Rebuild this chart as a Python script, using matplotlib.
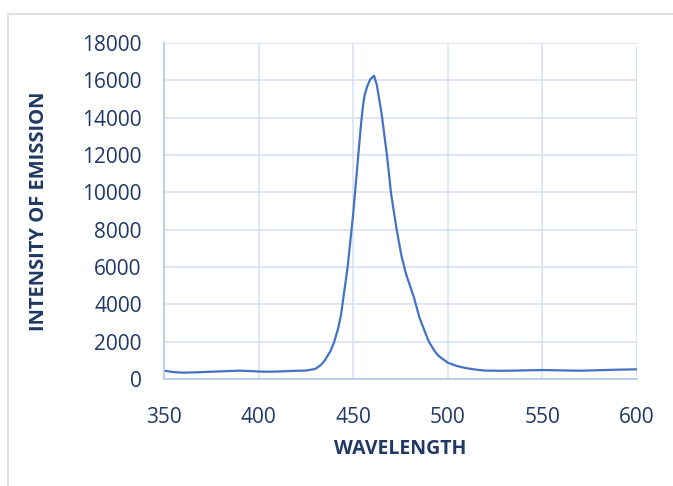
import numpy as np
import matplotlib
matplotlib.use("Agg")
import matplotlib.pyplot as plt
from matplotlib.patches import Rectangle

# ── data ──────────────────────────────────────────────────
wavelength = [350, 355, 360, 365, 370, 375, 380, 385, 390, 395,
              400, 405, 410, 415, 420, 425, 430, 433, 435, 438,
              440, 442, 443.5, 445, 447, 450, 452, 454, 455, 456, 457.5,
              459, 461, 462.5, 465, 468, 470, 473, 475.5, 478, 482,
              485, 488, 490, 493, 495, 500, 505, 510, 515, 520, 530, 540,
              550, 560, 570, 580, 590, 600]
intensity = [450, 370, 340, 350, 370, 390, 410, 430, 445, 430,
             400, 390, 400, 420, 440, 450, 540, 760, 1000, 1500,
             2000, 2700, 3400, 4500, 5950, 8850, 11200, 13500, 14500, 15200, 15700,
             16050, 16250, 15750, 14230, 11850, 9950, 7980, 6600, 5600, 4400,
             3300, 2500, 2000, 1500, 1250, 870, 690, 575, 500, 450, 440, 460,
             480, 460, 445, 470, 500, 520]

x_ticks = [350, 400, 450, 500, 550, 600]
y_ticks = list(range(0, 18001, 2000))

LINE   = "#4472C4"
GRID   = "#D9E2F3"
TEXT   = "#1F3864"
BORDER = "#D6DCE5"

plt.rcParams["font.family"] = ["Open Sans", "DejaVu Sans"]

fig = plt.figure(figsize=(6.73, 4.86), dpi=100)
fig.patches.append(Rectangle((8 / 673, -0.1), 1.2, 1 - 14 / 486 + 0.1,
                             transform=fig.transFigure, fill=False,
                             edgecolor=BORDER, linewidth=1.2))

ax = fig.add_axes([164 / 673, 1 - 379 / 486, 473 / 673, 336 / 486])
ax.plot(wavelength, intensity, color=LINE, linewidth=1.6)

ax.set_xlim(350, 600)
ax.set_ylim(0, 18000)
ax.set_xticks(x_ticks)
ax.set_yticks(y_ticks)
ax.grid(True, color=GRID, linewidth=1.2)
ax.set_axisbelow(True)
ax.tick_params(length=0, labelsize=15, colors=TEXT)
ax.tick_params(axis="y", pad=16)
ax.tick_params(axis="x", pad=20)
for s in ["top", "right"]:
    ax.spines[s].set_visible(False)
for s in ["left", "bottom"]:
    ax.spines[s].set_color("#B4C7E7")
    ax.spines[s].set_linewidth(1.2)

ax.set_xlabel("WAVELENGTH", fontsize=14, fontweight="bold", color=TEXT,
              labelpad=8)
ax.set_ylabel("INTENSITY OF EMISSION", fontsize=14.5, fontweight="bold",
              color=TEXT, labelpad=24)

fig.savefig("out.png", dpi=100)
